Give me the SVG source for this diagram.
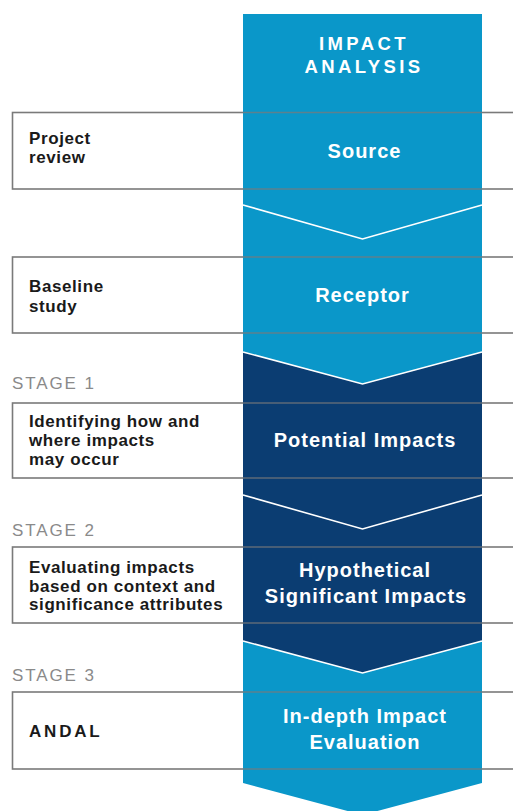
<svg xmlns="http://www.w3.org/2000/svg" width="513" height="811" viewBox="0 0 513 811">
  <style>
    .box { fill: #ffffff; stroke: #7a7a7a; stroke-width: 1.6; }
    .edge { stroke: #7a7a7a; stroke-width: 1.6; opacity: 0.75; fill: none; }
    .light { fill: #0a97c9; }
    .dark { fill: #0b3d72; }
    .chev { fill: none; stroke: #ffffff; stroke-width: 1.6; stroke-linejoin: miter; }
    .lbl { font-family: "Liberation Sans", Arial, sans-serif; font-size: 17px; font-weight: bold; fill: #1a1a1a; letter-spacing: 0.6px; }
    .stage { font-family: "Liberation Sans", Arial, sans-serif; font-size: 17px; fill: #8a8a8a; letter-spacing: 1.9px; }
    .ctr { font-family: "Liberation Sans", Arial, sans-serif; font-size: 20px; font-weight: bold; fill: #ffffff; letter-spacing: 1px; text-anchor: middle; }
    .head { font-family: "Liberation Sans", Arial, sans-serif; font-size: 18.5px; font-weight: bold; fill: #ffffff; letter-spacing: 3.4px; text-anchor: middle; }
  </style>
  <rect width="513" height="811" fill="#ffffff"/>

  <!-- left boxes (white background) -->
  <g id="box-project-review">
    <rect class="box" x="12.5" y="112.5" width="520" height="76.5"/>
    <text class="lbl" x="29" y="144">Project</text>
    <text class="lbl" x="29" y="163">review</text>
  </g>
  <g id="box-baseline-study">
    <rect class="box" x="12.5" y="257" width="520" height="76"/>
    <text class="lbl" x="29" y="292">Baseline</text>
    <text class="lbl" x="29" y="312">study</text>
  </g>
  <g id="box-stage1">
    <text class="stage" x="12" y="389">STAGE 1</text>
    <rect class="box" x="12.5" y="403" width="520" height="75"/>
    <text class="lbl" x="29" y="427">Identifying how and</text>
    <text class="lbl" x="29" y="446">where impacts</text>
    <text class="lbl" x="29" y="465">may occur</text>
  </g>
  <g id="box-stage2">
    <text class="stage" x="12" y="536">STAGE 2</text>
    <rect class="box" x="12.5" y="547" width="520" height="76"/>
    <text class="lbl" x="29" y="573">Evaluating impacts</text>
    <text class="lbl" x="29" y="592">based on context and</text>
    <text class="lbl" x="29" y="610">significance attributes</text>
  </g>
  <g id="box-stage3">
    <text class="stage" x="12" y="681">STAGE 3</text>
    <rect class="box" x="12.5" y="692" width="520" height="77"/>
    <text class="lbl" x="29" y="737" style="letter-spacing:2.8px">ANDAL</text>
  </g>

  <!-- central column -->
  <g id="col-source">
    <polygon class="light" points="243,14 482,14 482,205 362.5,239 243,205"/>
    <text class="head" x="364" y="50">IMPACT</text>
    <text class="head" x="364" y="73">ANALYSIS</text>
    <text class="ctr" x="364.5" y="158">Source</text>
  </g>
  <g id="col-receptor">
    <polygon class="light" points="243,205 362.5,239 482,205 482,352 362.5,384 243,352"/>
    <text class="ctr" x="362.5" y="302">Receptor</text>
  </g>
  <g id="col-potential">
    <polygon class="dark" points="243,352 362.5,384 482,352 482,495 362.5,529 243,495"/>
    <text class="ctr" x="365" y="447">Potential Impacts</text>
  </g>
  <g id="col-hypothetical">
    <polygon class="dark" points="243,495 362.5,529 482,495 482,641 362.5,673 243,641"/>
    <text class="ctr" x="365" y="577">Hypothetical</text>
    <text class="ctr" x="366" y="603">Significant Impacts</text>
  </g>
  <g id="col-indepth">
    <polygon class="light" points="243,641 362.5,673 482,641 482,783 362.5,815 243,783"/>
    <text class="ctr" x="365" y="723">In-depth Impact</text>
    <text class="ctr" x="365" y="749">Evaluation</text>
  </g>

  <!-- connectors: chevron separators and box edges across column -->
  <g id="connectors">
    <polyline class="chev" points="243,205 362.5,239 482,205"/>
    <polyline class="chev" points="243,352 362.5,384 482,352"/>
    <polyline class="chev" points="243,495 362.5,529 482,495"/>
    <polyline class="chev" points="243,641 362.5,673 482,641"/>
    <line class="edge" x1="243" y1="112.5" x2="482" y2="112.5"/>
    <line class="edge" x1="243" y1="189" x2="482" y2="189"/>
    <line class="edge" x1="243" y1="257" x2="482" y2="257"/>
    <line class="edge" x1="243" y1="333" x2="482" y2="333"/>
    <line class="edge" x1="243" y1="403" x2="482" y2="403"/>
    <line class="edge" x1="243" y1="478" x2="482" y2="478"/>
    <line class="edge" x1="243" y1="547" x2="482" y2="547"/>
    <line class="edge" x1="243" y1="623" x2="482" y2="623"/>
    <line class="edge" x1="243" y1="692" x2="482" y2="692"/>
    <line class="edge" x1="243" y1="769" x2="482" y2="769"/>
  </g>
</svg>
